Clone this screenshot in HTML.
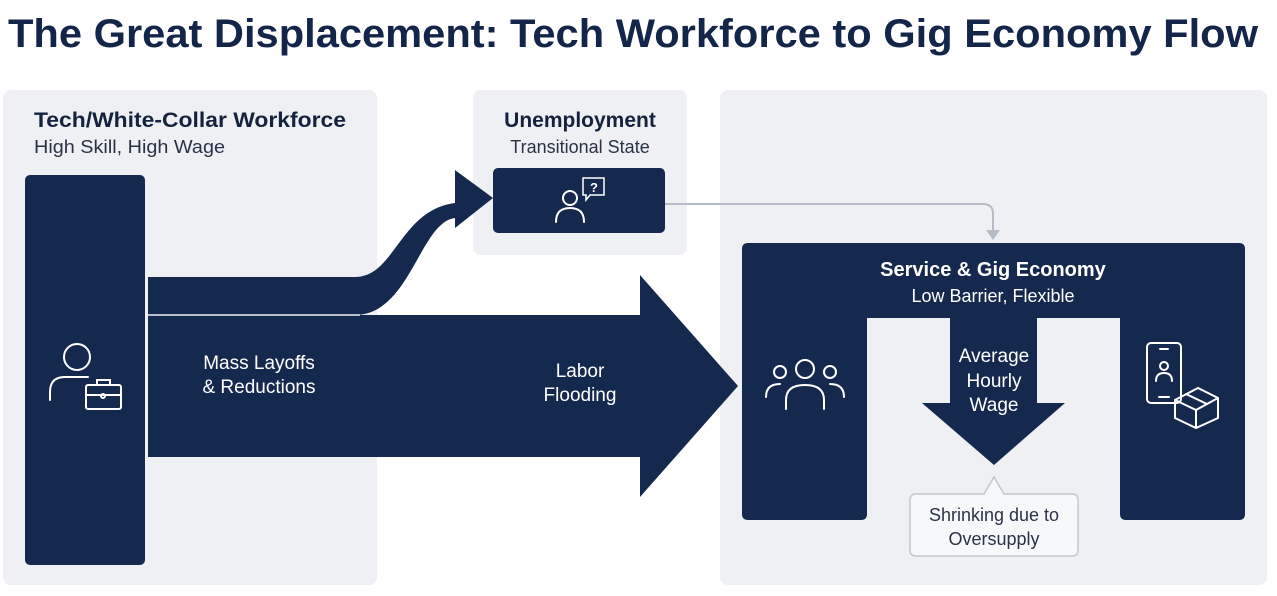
<!DOCTYPE html>
<html><head><meta charset="utf-8"><style>
html,body{margin:0;padding:0;background:#fff;}
svg{display:block;font-family:"Liberation Sans",sans-serif;}
</style></head><body>
<svg width="1277" height="596" viewBox="0 0 1277 596" xmlns="http://www.w3.org/2000/svg">
<rect width="1277" height="596" fill="#ffffff"/>
<text x="8" y="47" font-size="40" font-weight="bold" fill="#14254a" textLength="1250" lengthAdjust="spacingAndGlyphs">The Great Displacement: Tech Workforce to Gig Economy Flow</text>

<rect x="3" y="90" width="374" height="495" rx="8" fill="#eef0f4"/>
<rect x="473" y="90" width="214" height="165" rx="8" fill="#eef0f4"/>
<rect x="720" y="90" width="547" height="495" rx="8" fill="#eef0f4"/>

<g fill="#15294f">
<rect x="25" y="175" width="120" height="390" rx="5"/>
<polygon points="148,315 640,315 640,275 738,386 640,497 640,457 148,457"/>
<path d="M148,277 L355,277 C395,277 400,210 455,203 L455,170 L493,198 L455,228 L455,218 C420,222 410,315 355,315 L148,315 Z"/>
<rect x="493" y="168" width="172" height="65" rx="5"/>
<path d="M748,243 H1239 Q1245,243 1245,249 V514 Q1245,520 1239,520 H1126 Q1120,520 1120,514 V318 H1037 V403 H1065 L994,465 L922,403 H950 V318 H867 V514 Q867,520 861,520 H748 Q742,520 742,514 V249 Q742,243 748,243 Z"/>
</g>
<line x1="148" y1="315" x2="360" y2="315" stroke="#eef0f4" stroke-width="1.5"/>

<path d="M665,204 H983 Q993,204 993,214 V232" fill="none" stroke="#b5bcc6" stroke-width="2"/>
<polygon points="986,230 1000,230 993,240" fill="#b5bcc6"/>

<text x="34" y="127" font-size="21" font-weight="bold" fill="#15233f" textLength="312" lengthAdjust="spacingAndGlyphs">Tech/White-Collar Workforce</text>
<text x="34" y="153" font-size="18" fill="#2a3346" textLength="191" lengthAdjust="spacingAndGlyphs">High Skill, High Wage</text>
<text x="580" y="127" font-size="21" font-weight="bold" fill="#15233f" text-anchor="middle">Unemployment</text>
<text x="580" y="153" font-size="18" fill="#2a3346" text-anchor="middle">Transitional State</text>

<g fill="#ffffff" font-size="19" text-anchor="middle">
<text x="259" y="369">Mass Layoffs</text>
<text x="259" y="393">&amp; Reductions</text>
<text x="580" y="377">Labor</text>
<text x="580" y="401">Flooding</text>
<text x="993" y="276" font-size="20" font-weight="bold">Service &amp; Gig Economy</text>
<text x="993" y="302" font-size="18">Low Barrier, Flexible</text>
<text x="994" y="362">Average</text>
<text x="994" y="387">Hourly</text>
<text x="994" y="411">Wage</text>
<text x="594" y="192" font-size="13" font-weight="bold">?</text>
</g>

<path d="M916,494 H984 L994,477 L1004,494 H1072 Q1078,494 1078,500 V550 Q1078,556 1072,556 H916 Q910,556 910,550 V500 Q910,494 916,494 Z" fill="#f7f8fa" stroke="#c3c8cf" stroke-width="1.5"/>
<text x="994" y="521" font-size="18" fill="#2a3346" text-anchor="middle">Shrinking due to</text>
<text x="994" y="545" font-size="18" fill="#2a3346" text-anchor="middle">Oversupply</text>

<g fill="none" stroke="#ffffff" stroke-width="2" stroke-linecap="round">
 <circle cx="77" cy="357" r="13"/>
 <path d="M50,400 V392 Q50,377 65,377 H88"/>
 <rect x="86" y="385" width="35" height="24" rx="2"/>
 <path d="M97,385 V380 H110 V385 M86,395 H121"/>
 <circle cx="103" cy="396" r="2"/>
 <circle cx="570" cy="198" r="7"/>
 <path d="M556,222 Q556,208 570,208 Q584,208 584,222"/>
 <path d="M583,178 H604 V195 H590 L586,200 V195 H583 Z" stroke-width="1.5"/>
 <circle cx="805" cy="369" r="9"/>
 <path d="M786,409 V400 Q786,385 805,385 Q824,385 824,400 V409"/>
 <circle cx="780" cy="372" r="6"/>
 <path d="M766,397 Q766,384 780,384"/>
 <circle cx="830" cy="372" r="6"/>
 <path d="M844,397 Q844,384 830,384"/>
 <rect x="1147" y="343" width="34" height="60" rx="4"/>
 <path d="M1160,349 H1168 M1159,397 H1169"/>
 <circle cx="1164" cy="366" r="4"/>
 <path d="M1156,381 Q1156,373 1164,373 Q1172,373 1172,381"/>
 <path d="M1175,400 L1198,388 L1218,398 V418 L1196,428 L1175,418 Z M1175,400 L1196,410 L1218,398 M1196,410 V428 M1186,394 L1207,404"/>
</g>
</svg>
</body></html>
